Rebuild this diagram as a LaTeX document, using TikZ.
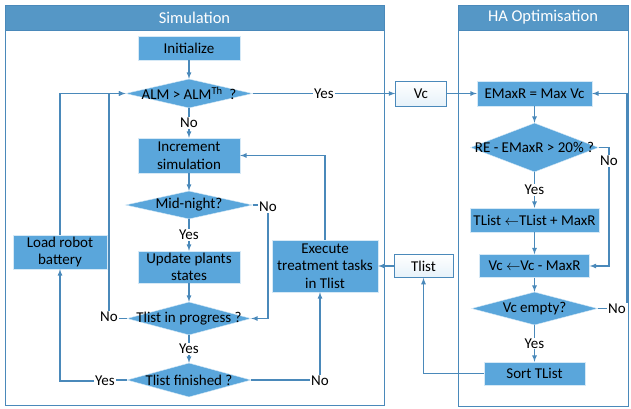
\documentclass[tikz,border=0pt]{standalone}
\usepackage{fontspec}
\setmainfont{Carlito}
\usetikzlibrary{shapes.geometric}
\definecolor{ourboxblue}{HTML}{5AA6DB}
\definecolor{ourheadblue}{HTML}{5597C6}
\definecolor{ourlineblue}{HTML}{4A89BA}

\begin{document}
\begin{tikzpicture}[x=1pt,y=-1pt,font=\fontsize{15}{17.5}\selectfont]

  \tikzstyle{panel}=[draw=ourlineblue, line width=0.9pt]
  \tikzstyle{header}=[draw=ourlineblue, fill=ourheadblue, text=white,
                      font=\fontsize{16.5}{19}\selectfont, inner sep=0pt]
  \tikzstyle{proc}=[draw=white!75!ourboxblue, fill=ourboxblue, inner sep=0pt,
                    align=center]
  \tikzstyle{decision}=[diamond, draw=white!75!ourboxblue, fill=ourboxblue,
                        inner sep=0pt]
  \tikzstyle{data}=[draw=ourlineblue, line width=0.7pt, top color=white,
                    bottom color=ourboxblue!15, inner sep=0pt]
  \tikzstyle{answer}=[fill=white, inner sep=1pt]
  \tikzstyle{link}=[draw=ourlineblue, line width=1.2pt]
  \tikzstyle{arrowlink}=[link, ->, >=latex]

  \useasboundingbox (0,0) rectangle (631,408);

  % panels
  \draw[panel] (5,5) rectangle (384,405);
  \draw[panel] (458,5) rectangle (628,406);
  \path
  (194.5,17.5) node[header, minimum width=379, minimum height=25](simhead){Simulation}
  (543,17.5)   node[header, minimum width=170, minimum height=25](hahead){HA Optimisation};

  % simulation
  \path
  (189,48)    node[proc, minimum width=102, minimum height=24](init){Initialize}
  (189,93.5)  node[decision, minimum width=127, minimum height=29,
                   label=center:{ALM > ALM\textsuperscript{Th}~~?}](alm){}
  (189,155.5) node[proc, minimum width=102, minimum height=35](inc){Increment\\simulation}
  (189,205)   node[decision, minimum width=127, minimum height=28,
                   label=center:{Mid-night?}](mid){}
  (189,267)   node[proc, minimum width=102, minimum height=32](upd){Update plants\\states}
  (189,318.5) node[decision, minimum width=124, minimum height=33,
                   label=center:{Tlist in progress ?}](prog){}
  (189,380)   node[decision, minimum width=124, minimum height=34,
                   label=center:{Tlist finished ?}](fin){};

  \path
  (60,252)  node[proc, minimum width=94, minimum height=34](bat){Load robot\\battery}
  (325,266) node[proc, minimum width=106, minimum height=52](exe){Execute\\treatment tasks\\in Tlist};

  % exchanged lists
  \path
  (421,93.5)  node[data, minimum width=51, minimum height=25](vc){Vc}
  (423.5,266) node[data, minimum width=59, minimum height=23](tl){Tlist};

  % HA optimisation
  \path
  (534.5,93.5)  node[proc, minimum width=115, minimum height=25](emax){EMaxR = Max Vc}
  (534.5,147.5) node[decision, minimum width=128, minimum height=49,
                     label=center:{RE - EMaxR > 20\% ?}](re){}
  (534.5,220)   node[proc, minimum width=129, minimum height=24](tadd){TList $\leftarrow$TList + MaxR}
  (534.5,266)   node[proc, minimum width=110, minimum height=23](vsub){Vc $\leftarrow$Vc - MaxR}
  (534.5,308.5) node[decision, minimum width=126, minimum height=33,
                     label=center:{Vc empty?}](vce){}
  (534.5,373.5) node[proc, minimum width=101, minimum height=23](sort){Sort TList};

  \path
  (268,207) node[answer](nomid){No}
  (109,317) node[answer](noprog){No}
  (105,381) node[answer](yesfin){Yes}
  (320,381) node[answer](nofin){No}
  (609,161) node[answer](nore){No}
  (617,309) node[answer](novce){No};

  \draw[arrowlink] (init) -- (alm);
  \draw[arrowlink] (alm) -- node[answer]{No} (inc);
  \draw[arrowlink] (inc) -- (mid);
  \draw[arrowlink] (mid) -- node[answer]{Yes} (upd);
  \draw[arrowlink] (upd) -- (prog);
  \draw[arrowlink] (prog) -- node[answer]{Yes} (fin);

  \draw[link] (mid.east) -- (mid.east -| nomid.west);
  \draw[arrowlink] (nomid.south) |- (prog.east);
  \draw[link] (prog.west) -- (prog.west -| noprog.east);
  \draw[arrowlink] (noprog.north) |- (alm.west);
  \draw[arrowlink] (bat.north) |- (alm.west);
  \draw[link] (fin.west) -- (fin.west -| yesfin.east);
  \draw[arrowlink] (yesfin.west) -| (bat.south);
  \draw[link] (fin.east) -- (fin.east -| nofin.west);
  \draw[arrowlink] (nofin.north) -- (nofin.north |- exe.south);
  \draw[arrowlink] (exe.north) |- (inc.east);

  \draw[arrowlink] (alm) -- node[answer]{Yes} (vc);
  \draw[arrowlink] (vc) -- (emax);
  \draw[arrowlink] (emax) -- (re);
  \draw[arrowlink] (re) -- node[answer]{Yes} (tadd);
  \draw[arrowlink] (tadd) -- (vsub);
  \draw[arrowlink] (vsub) -- (vce);
  \draw[arrowlink] (vce) -- node[answer]{Yes} (sort);

  \draw[link] (re.east) -| (nore.north);
  \draw[arrowlink] (nore.south) |- (vsub.east);
  \draw[link] (vce.east) -- (vce.east -| novce.west);
  \draw[arrowlink] (novce.north east) |- (emax.east);

  \draw[arrowlink] (sort.west) -| (tl.south);
  \draw[arrowlink] (tl.west) -- (exe.east);

\end{tikzpicture}
\end{document}
